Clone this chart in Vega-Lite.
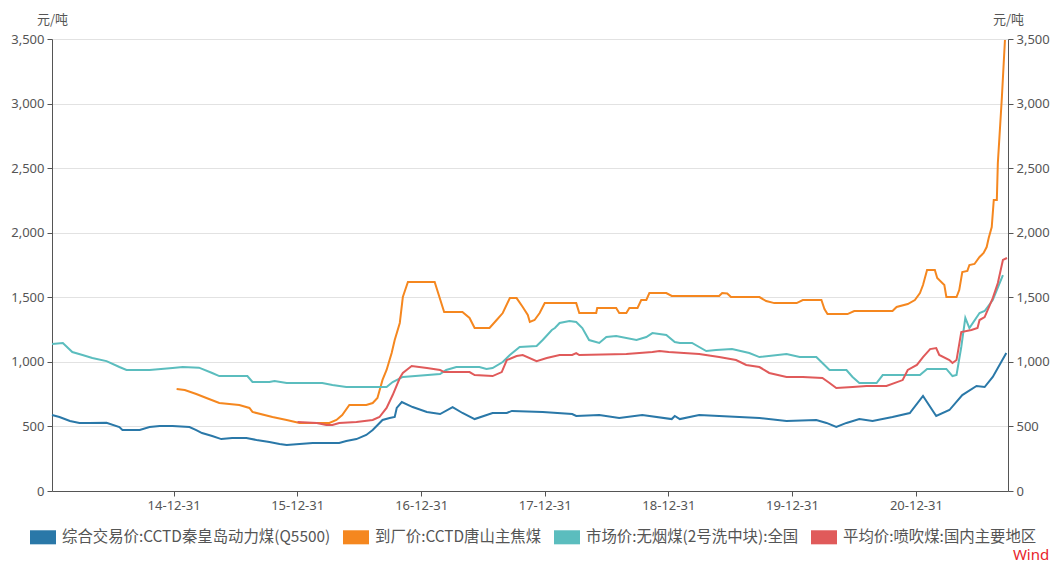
{
  "$schema": "https://vega.github.io/schema/vega-lite/v6.json",
  "width": 956,
  "height": 452,
  "autosize": {"type": "none"},
  "padding": {"left": 52, "top": 39, "right": 46, "bottom": 74},
  "background": "white",
  "config": {"view": {"stroke": null}, "font": "Noto Sans CJK SC"},
  "title": {"text": "Wind", "orient": "bottom", "anchor": "end", "frame": "bounds", "color": "#e8242b", "fontSize": 15, "fontWeight": "normal", "font": "Noto Sans", "offset": 2},
  "data": {"values": [
    {"d":"2014-01-06","s":"综合交易价:CCTD秦皇岛动力煤(Q5500)","v":588},
    {"d":"2014-01-28","s":"综合交易价:CCTD秦皇岛动力煤(Q5500)","v":573},
    {"d":"2014-02-28","s":"综合交易价:CCTD秦皇岛动力煤(Q5500)","v":542},
    {"d":"2014-03-28","s":"综合交易价:CCTD秦皇岛动力煤(Q5500)","v":527},
    {"d":"2014-04-26","s":"综合交易价:CCTD秦皇岛动力煤(Q5500)","v":527},
    {"d":"2014-06-16","s":"综合交易价:CCTD秦皇岛动力煤(Q5500)","v":529},
    {"d":"2014-07-24","s":"综合交易价:CCTD秦皇岛动力煤(Q5500)","v":495},
    {"d":"2014-08-02","s":"综合交易价:CCTD秦皇岛动力煤(Q5500)","v":472},
    {"d":"2014-09-22","s":"综合交易价:CCTD秦皇岛动力煤(Q5500)","v":472},
    {"d":"2014-10-21","s":"综合交易价:CCTD秦皇岛动力煤(Q5500)","v":495},
    {"d":"2014-11-20","s":"综合交易价:CCTD秦皇岛动力煤(Q5500)","v":503},
    {"d":"2014-12-28","s":"综合交易价:CCTD秦皇岛动力煤(Q5500)","v":503},
    {"d":"2015-02-16","s":"综合交易价:CCTD秦皇岛动力煤(Q5500)","v":495},
    {"d":"2015-03-08","s":"综合交易价:CCTD秦皇岛动力煤(Q5500)","v":472},
    {"d":"2015-03-25","s":"综合交易价:CCTD秦皇岛动力煤(Q5500)","v":449},
    {"d":"2015-04-24","s":"综合交易价:CCTD秦皇岛动力煤(Q5500)","v":426},
    {"d":"2015-05-21","s":"综合交易价:CCTD秦皇岛动力煤(Q5500)","v":402},
    {"d":"2015-06-22","s":"综合交易价:CCTD秦皇岛动力煤(Q5500)","v":410},
    {"d":"2015-08-03","s":"综合交易价:CCTD秦皇岛动力煤(Q5500)","v":410},
    {"d":"2015-09-02","s":"综合交易价:CCTD秦皇岛动力煤(Q5500)","v":395},
    {"d":"2015-10-10","s":"综合交易价:CCTD秦皇岛动力煤(Q5500)","v":379},
    {"d":"2015-11-09","s":"综合交易价:CCTD秦皇岛动力煤(Q5500)","v":364},
    {"d":"2015-11-30","s":"综合交易价:CCTD秦皇岛动力煤(Q5500)","v":356},
    {"d":"2016-01-07","s":"综合交易价:CCTD秦皇岛动力煤(Q5500)","v":364},
    {"d":"2016-02-15","s":"综合交易价:CCTD秦皇岛动力煤(Q5500)","v":372},
    {"d":"2016-05-03","s":"综合交易价:CCTD秦皇岛动力煤(Q5500)","v":372},
    {"d":"2016-05-24","s":"综合交易价:CCTD秦皇岛动力煤(Q5500)","v":387},
    {"d":"2016-06-23","s":"综合交易价:CCTD秦皇岛动力煤(Q5500)","v":402},
    {"d":"2016-07-22","s":"综合交易价:CCTD秦皇岛动力煤(Q5500)","v":434},
    {"d":"2016-08-10","s":"综合交易价:CCTD秦皇岛动力煤(Q5500)","v":472},
    {"d":"2016-09-08","s":"综合交易价:CCTD秦皇岛动力煤(Q5500)","v":550},
    {"d":"2016-09-29","s":"综合交易价:CCTD秦皇岛动力煤(Q5500)","v":565},
    {"d":"2016-10-14","s":"综合交易价:CCTD秦皇岛动力煤(Q5500)","v":573},
    {"d":"2016-10-20","s":"综合交易价:CCTD秦皇岛动力煤(Q5500)","v":643},
    {"d":"2016-11-04","s":"综合交易价:CCTD秦皇岛动力煤(Q5500)","v":689},
    {"d":"2016-12-06","s":"综合交易价:CCTD秦皇岛动力煤(Q5500)","v":650},
    {"d":"2017-01-17","s":"综合交易价:CCTD秦皇岛动力煤(Q5500)","v":612},
    {"d":"2017-02-25","s":"综合交易价:CCTD秦皇岛动力煤(Q5500)","v":596},
    {"d":"2017-04-03","s":"综合交易价:CCTD秦皇岛动力煤(Q5500)","v":650},
    {"d":"2017-05-02","s":"综合交易价:CCTD秦皇岛动力煤(Q5500)","v":604},
    {"d":"2017-06-07","s":"综合交易价:CCTD秦皇岛动力煤(Q5500)","v":557},
    {"d":"2017-07-30","s":"综合交易价:CCTD秦皇岛动力煤(Q5500)","v":604},
    {"d":"2017-09-10","s":"综合交易价:CCTD秦皇岛动力煤(Q5500)","v":604},
    {"d":"2017-09-25","s":"综合交易价:CCTD秦皇岛动力煤(Q5500)","v":620},
    {"d":"2017-12-25","s":"综合交易价:CCTD秦皇岛动力煤(Q5500)","v":612},
    {"d":"2018-03-22","s":"综合交易价:CCTD秦皇岛动力煤(Q5500)","v":596},
    {"d":"2018-04-03","s":"综合交易价:CCTD秦皇岛动力煤(Q5500)","v":581},
    {"d":"2018-06-10","s":"综合交易价:CCTD秦皇岛动力煤(Q5500)","v":588},
    {"d":"2018-08-08","s":"综合交易价:CCTD秦皇岛动力煤(Q5500)","v":565},
    {"d":"2018-10-15","s":"综合交易价:CCTD秦皇岛动力煤(Q5500)","v":588},
    {"d":"2019-01-10","s":"综合交易价:CCTD秦皇岛动力煤(Q5500)","v":557},
    {"d":"2019-01-19","s":"综合交易价:CCTD秦皇岛动力煤(Q5500)","v":581},
    {"d":"2019-02-03","s":"综合交易价:CCTD秦皇岛动力煤(Q5500)","v":557},
    {"d":"2019-04-01","s":"综合交易价:CCTD秦皇岛动力煤(Q5500)","v":588},
    {"d":"2019-05-30","s":"综合交易价:CCTD秦皇岛动力煤(Q5500)","v":581},
    {"d":"2019-09-26","s":"综合交易价:CCTD秦皇岛动力煤(Q5500)","v":565},
    {"d":"2019-12-15","s":"综合交易价:CCTD秦皇岛动力煤(Q5500)","v":542},
    {"d":"2020-03-12","s":"综合交易价:CCTD秦皇岛动力煤(Q5500)","v":550},
    {"d":"2020-04-11","s":"综合交易价:CCTD秦皇岛动力煤(Q5500)","v":527},
    {"d":"2020-05-10","s":"综合交易价:CCTD秦皇岛动力煤(Q5500)","v":496},
    {"d":"2020-06-09","s":"综合交易价:CCTD秦皇岛动力煤(Q5500)","v":527},
    {"d":"2020-07-17","s":"综合交易价:CCTD秦皇岛动力煤(Q5500)","v":557},
    {"d":"2020-08-25","s":"综合交易价:CCTD秦皇岛动力煤(Q5500)","v":542},
    {"d":"2020-10-23","s":"综合交易价:CCTD秦皇岛动力煤(Q5500)","v":573},
    {"d":"2020-12-13","s":"综合交易价:CCTD秦皇岛动力煤(Q5500)","v":604},
    {"d":"2021-01-21","s":"综合交易价:CCTD秦皇岛动力煤(Q5500)","v":736},
    {"d":"2021-03-01","s":"综合交易价:CCTD秦皇岛动力煤(Q5500)","v":581},
    {"d":"2021-04-09","s":"综合交易价:CCTD秦皇岛动力煤(Q5500)","v":627},
    {"d":"2021-05-17","s":"综合交易价:CCTD秦皇岛动力煤(Q5500)","v":743},
    {"d":"2021-06-28","s":"综合交易价:CCTD秦皇岛动力煤(Q5500)","v":813},
    {"d":"2021-07-22","s":"综合交易价:CCTD秦皇岛动力煤(Q5500)","v":805},
    {"d":"2021-08-15","s":"综合交易价:CCTD秦皇岛动力煤(Q5500)","v":883},
    {"d":"2021-09-24","s":"综合交易价:CCTD秦皇岛动力煤(Q5500)","v":1069},

    {"d":"2015-01-09","s":"到厂价:CCTD唐山主焦煤","v":790},
    {"d":"2015-02-02","s":"到厂价:CCTD唐山主焦煤","v":782},
    {"d":"2015-03-08","s":"到厂价:CCTD唐山主焦煤","v":751},
    {"d":"2015-04-07","s":"到厂价:CCTD唐山主焦煤","v":720},
    {"d":"2015-05-15","s":"到厂价:CCTD唐山主焦煤","v":681},
    {"d":"2015-07-13","s":"到厂价:CCTD唐山主焦煤","v":666},
    {"d":"2015-08-12","s":"到厂价:CCTD唐山主焦煤","v":643},
    {"d":"2015-08-21","s":"到厂价:CCTD唐山主焦煤","v":612},
    {"d":"2015-10-19","s":"到厂价:CCTD唐山主焦煤","v":573},
    {"d":"2015-11-30","s":"到厂价:CCTD唐山主焦煤","v":550},
    {"d":"2016-01-07","s":"到厂价:CCTD唐山主焦煤","v":527},
    {"d":"2016-04-04","s":"到厂价:CCTD唐山主焦煤","v":527},
    {"d":"2016-04-25","s":"到厂价:CCTD唐山主焦煤","v":550},
    {"d":"2016-05-12","s":"到厂价:CCTD唐山主焦煤","v":588},
    {"d":"2016-06-02","s":"到厂价:CCTD唐山主焦煤","v":666},
    {"d":"2016-07-22","s":"到厂价:CCTD唐山主焦煤","v":666},
    {"d":"2016-08-10","s":"到厂价:CCTD唐山主焦煤","v":681},
    {"d":"2016-08-24","s":"到厂价:CCTD唐山主焦煤","v":720},
    {"d":"2016-09-08","s":"到厂价:CCTD唐山主焦煤","v":860},
    {"d":"2016-09-20","s":"到厂价:CCTD唐山主焦煤","v":937},
    {"d":"2016-10-05","s":"到厂价:CCTD唐山主焦煤","v":1068},
    {"d":"2016-10-14","s":"到厂价:CCTD唐山主焦煤","v":1169},
    {"d":"2016-10-29","s":"到厂价:CCTD唐山主焦煤","v":1301},
    {"d":"2016-11-07","s":"到厂价:CCTD唐山主焦煤","v":1502},
    {"d":"2016-11-22","s":"到厂价:CCTD唐山主焦煤","v":1618},
    {"d":"2017-02-09","s":"到厂价:CCTD唐山主焦煤","v":1618},
    {"d":"2017-03-09","s":"到厂价:CCTD唐山主焦煤","v":1386},
    {"d":"2017-05-02","s":"到厂价:CCTD唐山主焦煤","v":1386},
    {"d":"2017-05-23","s":"到厂价:CCTD唐山主焦煤","v":1340},
    {"d":"2017-06-07","s":"到厂价:CCTD唐山主焦煤","v":1262},
    {"d":"2017-07-21","s":"到厂价:CCTD唐山主焦煤","v":1262},
    {"d":"2017-08-11","s":"到厂价:CCTD唐山主焦煤","v":1324},
    {"d":"2017-08-29","s":"到厂价:CCTD唐山主焦煤","v":1378},
    {"d":"2017-09-19","s":"到厂价:CCTD唐山主焦煤","v":1494},
    {"d":"2017-10-09","s":"到厂价:CCTD唐山主焦煤","v":1494},
    {"d":"2017-10-27","s":"到厂价:CCTD唐山主焦煤","v":1425},
    {"d":"2017-11-11","s":"到厂价:CCTD唐山主焦煤","v":1363},
    {"d":"2017-11-17","s":"到厂价:CCTD唐山主焦煤","v":1309},
    {"d":"2017-12-01","s":"到厂价:CCTD唐山主焦煤","v":1324},
    {"d":"2017-12-16","s":"到厂价:CCTD唐山主焦煤","v":1378},
    {"d":"2017-12-31","s":"到厂价:CCTD唐山主焦煤","v":1455},
    {"d":"2018-04-03","s":"到厂价:CCTD唐山主焦煤","v":1455},
    {"d":"2018-04-12","s":"到厂价:CCTD唐山主焦煤","v":1378},
    {"d":"2018-06-01","s":"到厂价:CCTD唐山主焦煤","v":1378},
    {"d":"2018-06-04","s":"到厂价:CCTD唐山主焦煤","v":1417},
    {"d":"2018-07-30","s":"到厂价:CCTD唐山主焦煤","v":1417},
    {"d":"2018-08-08","s":"到厂价:CCTD唐山主焦煤","v":1378},
    {"d":"2018-08-29","s":"到厂价:CCTD唐山主焦煤","v":1378},
    {"d":"2018-09-07","s":"到厂价:CCTD唐山主焦煤","v":1417},
    {"d":"2018-10-01","s":"到厂价:CCTD唐山主焦煤","v":1417},
    {"d":"2018-10-12","s":"到厂价:CCTD唐山主焦煤","v":1479},
    {"d":"2018-10-27","s":"到厂价:CCTD唐山主焦煤","v":1479},
    {"d":"2018-11-05","s":"到厂价:CCTD唐山主焦煤","v":1533},
    {"d":"2018-12-25","s":"到厂价:CCTD唐山主焦煤","v":1533},
    {"d":"2019-01-10","s":"到厂价:CCTD唐山主焦煤","v":1510},
    {"d":"2019-05-30","s":"到厂价:CCTD唐山主焦煤","v":1510},
    {"d":"2019-06-08","s":"到厂价:CCTD唐山主焦煤","v":1533},
    {"d":"2019-06-23","s":"到厂价:CCTD唐山主焦煤","v":1530},
    {"d":"2019-07-04","s":"到厂价:CCTD唐山主焦煤","v":1502},
    {"d":"2019-09-26","s":"到厂价:CCTD唐山主焦煤","v":1502},
    {"d":"2019-10-16","s":"到厂价:CCTD唐山主焦煤","v":1471},
    {"d":"2019-11-09","s":"到厂价:CCTD唐山主焦煤","v":1455},
    {"d":"2020-01-14","s":"到厂价:CCTD唐山主焦煤","v":1455},
    {"d":"2020-02-01","s":"到厂价:CCTD唐山主焦煤","v":1479},
    {"d":"2020-03-27","s":"到厂价:CCTD唐山主焦煤","v":1479},
    {"d":"2020-04-05","s":"到厂价:CCTD唐山主焦煤","v":1409},
    {"d":"2020-04-14","s":"到厂价:CCTD唐山主焦煤","v":1370},
    {"d":"2020-06-12","s":"到厂价:CCTD唐山主焦煤","v":1370},
    {"d":"2020-07-02","s":"到厂价:CCTD唐山主焦煤","v":1394},
    {"d":"2020-10-23","s":"到厂价:CCTD唐山主焦煤","v":1394},
    {"d":"2020-11-04","s":"到厂价:CCTD唐山主焦煤","v":1425},
    {"d":"2020-12-07","s":"到厂价:CCTD唐山主焦煤","v":1448},
    {"d":"2020-12-28","s":"到厂价:CCTD唐山主焦煤","v":1479},
    {"d":"2021-01-12","s":"到厂价:CCTD唐山主焦煤","v":1533},
    {"d":"2021-01-21","s":"到厂价:CCTD唐山主焦煤","v":1595},
    {"d":"2021-02-02","s":"到厂价:CCTD唐山主焦煤","v":1711},
    {"d":"2021-02-25","s":"到厂价:CCTD唐山主焦煤","v":1711},
    {"d":"2021-03-04","s":"到厂价:CCTD唐山主焦煤","v":1649},
    {"d":"2021-03-25","s":"到厂价:CCTD唐山主焦煤","v":1595},
    {"d":"2021-03-31","s":"到厂价:CCTD唐山主焦煤","v":1502},
    {"d":"2021-04-30","s":"到厂价:CCTD唐山主焦煤","v":1502},
    {"d":"2021-05-08","s":"到厂价:CCTD唐山主焦煤","v":1556},
    {"d":"2021-05-17","s":"到厂价:CCTD唐山主焦煤","v":1696},
    {"d":"2021-06-01","s":"到厂价:CCTD唐山主焦煤","v":1704},
    {"d":"2021-06-07","s":"到厂价:CCTD唐山主焦煤","v":1750},
    {"d":"2021-06-22","s":"到厂价:CCTD唐山主焦煤","v":1758},
    {"d":"2021-07-07","s":"到厂价:CCTD唐山主焦煤","v":1812},
    {"d":"2021-07-19","s":"到厂价:CCTD唐山主焦煤","v":1843},
    {"d":"2021-07-28","s":"到厂价:CCTD唐山主焦煤","v":1889},
    {"d":"2021-08-03","s":"到厂价:CCTD唐山主焦煤","v":1959},
    {"d":"2021-08-12","s":"到厂价:CCTD唐山主焦煤","v":2044},
    {"d":"2021-08-18","s":"到厂价:CCTD唐山主焦煤","v":2253},
    {"d":"2021-08-27","s":"到厂价:CCTD唐山主焦煤","v":2253},
    {"d":"2021-08-30","s":"到厂价:CCTD唐山主焦煤","v":2540},
    {"d":"2021-09-11","s":"到厂价:CCTD唐山主焦煤","v":3051},
    {"d":"2021-09-20","s":"到厂价:CCTD唐山主焦煤","v":3492},

    {"d":"2014-01-06","s":"市场价:无烟煤(2号洗中块):全国","v":1138},
    {"d":"2014-02-07","s":"市场价:无烟煤(2号洗中块):全国","v":1146},
    {"d":"2014-03-07","s":"市场价:无烟煤(2号洗中块):全国","v":1076},
    {"d":"2014-04-06","s":"市场价:无烟煤(2号洗中块):全国","v":1053},
    {"d":"2014-05-05","s":"市场价:无烟煤(2号洗中块):全国","v":1030},
    {"d":"2014-06-16","s":"市场价:无烟煤(2号洗中块):全国","v":1006},
    {"d":"2014-07-24","s":"市场价:无烟煤(2号洗中块):全国","v":960},
    {"d":"2014-08-14","s":"市场价:无烟煤(2号洗中块):全国","v":937},
    {"d":"2014-10-21","s":"市场价:无烟煤(2号洗中块):全国","v":937},
    {"d":"2014-12-28","s":"市场价:无烟煤(2号洗中块):全国","v":952},
    {"d":"2015-01-27","s":"市场价:无烟煤(2号洗中块):全国","v":960},
    {"d":"2015-03-16","s":"市场价:无烟煤(2号洗中块):全国","v":955},
    {"d":"2015-04-24","s":"市场价:无烟煤(2号洗中块):全国","v":914},
    {"d":"2015-05-15","s":"市场价:无烟煤(2号洗中块):全国","v":890},
    {"d":"2015-08-06","s":"市场价:无烟煤(2号洗中块):全国","v":890},
    {"d":"2015-08-21","s":"市场价:无烟煤(2号洗中块):全国","v":844},
    {"d":"2015-10-10","s":"市场价:无烟煤(2号洗中块):全国","v":844},
    {"d":"2015-10-25","s":"市场价:无烟煤(2号洗中块):全国","v":852},
    {"d":"2015-11-30","s":"市场价:无烟煤(2号洗中块):全国","v":836},
    {"d":"2016-03-14","s":"市场价:无烟煤(2号洗中块):全国","v":836},
    {"d":"2016-04-13","s":"市场价:无烟煤(2号洗中块):全国","v":821},
    {"d":"2016-05-24","s":"市场价:无烟煤(2号洗中块):全国","v":805},
    {"d":"2016-09-20","s":"市场价:无烟煤(2号洗中块):全国","v":805},
    {"d":"2016-10-08","s":"市场价:无烟煤(2号洗中块):全国","v":844},
    {"d":"2016-11-07","s":"市场价:无烟煤(2号洗中块):全国","v":883},
    {"d":"2017-02-25","s":"市场价:无烟煤(2号洗中块):全国","v":906},
    {"d":"2017-03-15","s":"市场价:无烟煤(2号洗中块):全国","v":937},
    {"d":"2017-04-14","s":"市场价:无烟煤(2号洗中块):全国","v":960},
    {"d":"2017-06-21","s":"市场价:无烟煤(2号洗中块):全国","v":960},
    {"d":"2017-07-12","s":"市场价:无烟煤(2号洗中块):全国","v":945},
    {"d":"2017-07-30","s":"市场价:无烟煤(2号洗中块):全国","v":952},
    {"d":"2017-08-29","s":"市场价:无烟煤(2号洗中块):全国","v":999},
    {"d":"2017-09-19","s":"市场价:无烟煤(2号洗中块):全国","v":1053},
    {"d":"2017-10-18","s":"市场价:无烟煤(2号洗中块):全国","v":1115},
    {"d":"2017-12-07","s":"市场价:无烟煤(2号洗中块):全国","v":1123},
    {"d":"2017-12-25","s":"市场价:无烟煤(2号洗中块):全国","v":1169},
    {"d":"2018-01-21","s":"市场价:无烟煤(2号洗中块):全国","v":1247},
    {"d":"2018-01-30","s":"市场价:无烟煤(2号洗中块):全国","v":1262},
    {"d":"2018-02-13","s":"市场价:无烟煤(2号洗中块):全国","v":1301},
    {"d":"2018-03-14","s":"市场价:无烟煤(2号洗中块):全国","v":1316},
    {"d":"2018-04-03","s":"市场价:无烟煤(2号洗中块):全国","v":1309},
    {"d":"2018-04-21","s":"市场价:无烟煤(2号洗中块):全国","v":1262},
    {"d":"2018-05-11","s":"市场价:无烟煤(2号洗中块):全国","v":1169},
    {"d":"2018-06-10","s":"市场价:无烟煤(2号洗中块):全国","v":1146},
    {"d":"2018-07-01","s":"市场价:无烟煤(2号洗中块):全国","v":1192},
    {"d":"2018-07-30","s":"市场价:无烟煤(2号洗中块):全国","v":1200},
    {"d":"2018-09-28","s":"市场价:无烟煤(2号洗中块):全国","v":1169},
    {"d":"2018-10-27","s":"市场价:无烟煤(2号洗中块):全国","v":1192},
    {"d":"2018-11-14","s":"市场价:无烟煤(2号洗中块):全国","v":1223},
    {"d":"2018-12-25","s":"市场价:无烟煤(2号洗中块):全国","v":1208},
    {"d":"2019-01-19","s":"市场价:无烟煤(2号洗中块):全国","v":1153},
    {"d":"2019-02-03","s":"市场价:无烟煤(2号洗中块):全国","v":1146},
    {"d":"2019-03-11","s":"市场价:无烟煤(2号洗中块):全国","v":1146},
    {"d":"2019-04-22","s":"市场价:无烟煤(2号洗中块):全国","v":1084},
    {"d":"2019-05-21","s":"市场价:无烟煤(2号洗中块):全国","v":1092},
    {"d":"2019-07-07","s":"市场价:无烟煤(2号洗中块):全国","v":1100},
    {"d":"2019-08-27","s":"市场价:无烟煤(2号洗中块):全国","v":1068},
    {"d":"2019-09-26","s":"市场价:无烟煤(2号洗中块):全国","v":1037},
    {"d":"2019-12-15","s":"市场价:无烟煤(2号洗中块):全国","v":1061},
    {"d":"2020-01-23","s":"市场价:无烟煤(2号洗中块):全国","v":1037},
    {"d":"2020-03-12","s":"市场价:无烟煤(2号洗中块):全国","v":1037},
    {"d":"2020-03-30","s":"市场价:无烟煤(2号洗中块):全国","v":991},
    {"d":"2020-04-20","s":"市场价:无烟煤(2号洗中块):全国","v":937},
    {"d":"2020-06-09","s":"市场价:无烟煤(2号洗中块):全国","v":937},
    {"d":"2020-06-27","s":"市场价:无烟煤(2号洗中块):全国","v":883},
    {"d":"2020-07-17","s":"市场价:无烟煤(2号洗中块):全国","v":836},
    {"d":"2020-09-06","s":"市场价:无烟煤(2号洗中块):全国","v":836},
    {"d":"2020-09-24","s":"市场价:无烟煤(2号洗中块):全国","v":898},
    {"d":"2021-01-12","s":"市场价:无烟煤(2号洗中块):全国","v":898},
    {"d":"2021-02-02","s":"市场价:无烟煤(2号洗中块):全国","v":945},
    {"d":"2021-03-31","s":"市场价:无烟煤(2号洗中块):全国","v":945},
    {"d":"2021-04-18","s":"市场价:无烟煤(2号洗中块):全国","v":890},
    {"d":"2021-04-30","s":"市场价:无烟煤(2号洗中块):全国","v":898},
    {"d":"2021-05-14","s":"市场价:无烟煤(2号洗中块):全国","v":1115},
    {"d":"2021-05-26","s":"市场价:无烟煤(2号洗中块):全国","v":1340},
    {"d":"2021-06-07","s":"市场价:无烟煤(2号洗中块):全国","v":1262},
    {"d":"2021-07-07","s":"市场价:无烟煤(2号洗中块):全国","v":1378},
    {"d":"2021-07-22","s":"市场价:无烟煤(2号洗中块):全国","v":1394},
    {"d":"2021-08-15","s":"市场价:无烟煤(2号洗中块):全国","v":1479},
    {"d":"2021-09-14","s":"市场价:无烟煤(2号洗中块):全国","v":1672},

    {"d":"2016-01-01","s":"平均价:喷吹煤:国内主要地区","v":534},
    {"d":"2016-02-27","s":"平均价:喷吹煤:国内主要地区","v":527},
    {"d":"2016-03-26","s":"平均价:喷吹煤:国内主要地区","v":511},
    {"d":"2016-04-13","s":"平均价:喷吹煤:国内主要地区","v":511},
    {"d":"2016-05-03","s":"平均价:喷吹煤:国内主要地区","v":527},
    {"d":"2016-06-23","s":"平均价:喷吹煤:国内主要地区","v":534},
    {"d":"2016-08-10","s":"平均价:喷吹煤:国内主要地区","v":550},
    {"d":"2016-08-30","s":"平均价:喷吹煤:国内主要地区","v":573},
    {"d":"2016-09-20","s":"平均价:喷吹煤:国内主要地区","v":643},
    {"d":"2016-10-08","s":"平均价:喷吹煤:国内主要地区","v":743},
    {"d":"2016-10-29","s":"平均价:喷吹煤:国内主要地区","v":875},
    {"d":"2016-11-07","s":"平均价:喷吹煤:国内主要地区","v":914},
    {"d":"2016-12-03","s":"平均价:喷吹煤:国内主要地区","v":968},
    {"d":"2017-01-17","s":"平均价:喷吹煤:国内主要地区","v":952},
    {"d":"2017-02-25","s":"平均价:喷吹煤:国内主要地区","v":937},
    {"d":"2017-03-09","s":"平均价:喷吹煤:国内主要地区","v":921},
    {"d":"2017-05-23","s":"平均价:喷吹煤:国内主要地区","v":921},
    {"d":"2017-06-07","s":"平均价:喷吹煤:国内主要地区","v":898},
    {"d":"2017-07-30","s":"平均价:喷吹煤:国内主要地区","v":890},
    {"d":"2017-08-26","s":"平均价:喷吹煤:国内主要地区","v":921},
    {"d":"2017-09-10","s":"平均价:喷吹煤:国内主要地区","v":1014},
    {"d":"2017-10-09","s":"平均价:喷吹煤:国内主要地区","v":1045},
    {"d":"2017-10-27","s":"平均价:喷吹煤:国内主要地区","v":1053},
    {"d":"2017-12-07","s":"平均价:喷吹煤:国内主要地区","v":1006},
    {"d":"2018-01-06","s":"平均价:喷吹煤:国内主要地区","v":1030},
    {"d":"2018-02-13","s":"平均价:喷吹煤:国内主要地区","v":1053},
    {"d":"2018-03-22","s":"平均价:喷吹煤:国内主要地区","v":1053},
    {"d":"2018-04-03","s":"平均价:喷吹煤:国内主要地区","v":1068},
    {"d":"2018-04-12","s":"平均价:喷吹煤:国内主要地区","v":1053},
    {"d":"2018-08-29","s":"平均价:喷吹煤:国内主要地区","v":1061},
    {"d":"2018-11-14","s":"平均价:喷吹煤:国内主要地区","v":1076},
    {"d":"2018-12-05","s":"平均价:喷吹煤:国内主要地区","v":1084},
    {"d":"2019-01-01","s":"平均价:喷吹煤:国内主要地区","v":1076},
    {"d":"2019-04-01","s":"平均价:喷吹煤:国内主要地区","v":1061},
    {"d":"2019-05-30","s":"平均价:喷吹煤:国内主要地区","v":1037},
    {"d":"2019-07-19","s":"平均价:喷吹煤:国内主要地区","v":1014},
    {"d":"2019-08-18","s":"平均价:喷吹煤:国内主要地区","v":976},
    {"d":"2019-09-26","s":"平均价:喷吹煤:国内主要地区","v":960},
    {"d":"2019-10-25","s":"平均价:喷吹煤:国内主要地区","v":914},
    {"d":"2019-12-15","s":"平均价:喷吹煤:国内主要地区","v":883},
    {"d":"2020-02-01","s":"平均价:喷吹煤:国内主要地区","v":883},
    {"d":"2020-03-30","s":"平均价:喷吹煤:国内主要地区","v":875},
    {"d":"2020-04-20","s":"平均价:喷吹煤:国内主要地区","v":836},
    {"d":"2020-05-10","s":"平均价:喷吹煤:国内主要地区","v":797},
    {"d":"2020-06-27","s":"平均价:喷吹煤:国内主要地区","v":805},
    {"d":"2020-08-07","s":"平均价:喷吹煤:国内主要地区","v":813},
    {"d":"2020-10-05","s":"平均价:喷吹煤:国内主要地区","v":813},
    {"d":"2020-11-22","s":"平均价:喷吹煤:国内主要地区","v":859},
    {"d":"2020-12-07","s":"平均价:喷吹煤:国内主要地区","v":937},
    {"d":"2021-01-03","s":"平均价:喷吹煤:国内主要地区","v":976},
    {"d":"2021-01-21","s":"平均价:喷吹煤:国内主要地区","v":1037},
    {"d":"2021-02-11","s":"平均价:喷吹煤:国内主要地区","v":1099},
    {"d":"2021-03-01","s":"平均价:喷吹煤:国内主要地区","v":1107},
    {"d":"2021-03-10","s":"平均价:喷吹煤:国内主要地区","v":1053},
    {"d":"2021-04-09","s":"平均价:喷吹煤:国内主要地区","v":1014},
    {"d":"2021-04-18","s":"平均价:喷吹煤:国内主要地区","v":991},
    {"d":"2021-04-30","s":"平均价:喷吹煤:国内主要地区","v":1014},
    {"d":"2021-05-14","s":"平均价:喷吹煤:国内主要地区","v":1231},
    {"d":"2021-06-13","s":"平均价:喷吹煤:国内主要地区","v":1247},
    {"d":"2021-07-01","s":"平均价:喷吹煤:国内主要地区","v":1262},
    {"d":"2021-07-07","s":"平均价:喷吹煤:国内主要地区","v":1324},
    {"d":"2021-07-22","s":"平均价:喷吹煤:国内主要地区","v":1347},
    {"d":"2021-08-15","s":"平均价:喷吹煤:国内主要地区","v":1494},
    {"d":"2021-08-30","s":"平均价:喷吹煤:国内主要地区","v":1610},
    {"d":"2021-09-14","s":"平均价:喷吹煤:国内主要地区","v":1789},
    {"d":"2021-09-26","s":"平均价:喷吹煤:国内主要地区","v":1804}
  ]},
  "encoding": {
    "x": {
      "field": "d", "type": "temporal",
      "scale": {"type": "utc", "domain": ["2014-01-06", "2021-09-29"]},
      "axis": {
        "title": null, "grid": false,
        "values": ["2014-12-31", "2015-12-31", "2016-12-31", "2017-12-31", "2018-12-31", "2019-12-31", "2020-12-31"],
        "format": "%y-%m-%d", "labelFont": "Noto Sans", "labelFontSize": 13, "labelColor": "#555555",
        "domainColor": "#555555", "tickColor": "#555555", "tickSize": 5, "labelPadding": 3
      }
    },
    "y": {
      "field": "v", "type": "quantitative",
      "scale": {"domain": [0, 3500], "nice": false}
    }
  },
  "layer": [
    {
      "mark": {"type": "line", "strokeWidth": 2, "interpolate": "linear"},
      "encoding": {
        "y": {
          "field": "v", "type": "quantitative",
          "axis": {
            "orient": "left", "values": [0, 500, 1000, 1500, 2000, 2500, 3000, 3500], "format": ",.0f",
            "grid": true, "gridColor": "#e2e2e2", "gridWidth": 1,
            "labelFont": "Noto Sans", "labelFontSize": 13, "labelColor": "#555555",
            "domainColor": "#555555", "tickColor": "#555555", "tickSize": 5, "labelPadding": 3,
            "title": "元/吨", "titleAngle": 0, "titleX": 0, "titleY": -20, "titleAlign": "center", "titleBaseline": "middle",
            "titleFont": "Noto Sans CJK SC", "titleFontSize": 13, "titleFontWeight": "normal", "titleColor": "#555555"
          }
        },
        "color": {
          "field": "s", "type": "nominal",
          "scale": {
            "domain": ["综合交易价:CCTD秦皇岛动力煤(Q5500)", "到厂价:CCTD唐山主焦煤", "市场价:无烟煤(2号洗中块):全国", "平均价:喷吹煤:国内主要地区"],
            "range": ["#2a78a8", "#f5871f", "#5bbdbe", "#e05a5a"]
          },
          "legend": {
            "title": null, "orient": "none", "direction": "horizontal", "legendX": -22, "legendY": 485,
            "symbolType": "M-1,-0.54H1V0.54H-1Z", "symbolSize": 676, "symbolStrokeWidth": 0,
            "labelFont": "Noto Sans CJK SC", "labelFontSize": 15.4, "labelColor": "#555555", "labelLimit": 400,
            "labelOffset": 6, "columnPadding": 12,
            "encode": {"symbols": {"update": {"fill": {"field": "value", "scale": "color"}, "opacity": {"value": 1}}}}
          }
        }
      }
    },
    {
      "mark": {"type": "line", "strokeOpacity": 0},
      "encoding": {
        "detail": {"field": "s", "type": "nominal"},
        "y": {
          "field": "v", "type": "quantitative",
          "axis": {
            "orient": "right", "values": [0, 500, 1000, 1500, 2000, 2500, 3000, 3500], "format": ",.0f",
            "grid": false,
            "labelFont": "Noto Sans", "labelFontSize": 13, "labelColor": "#555555",
            "domainColor": "#555555", "tickColor": "#555555", "tickSize": 5, "labelPadding": 3,
            "title": "元/吨", "titleAngle": 0, "titleX": 0, "titleY": -20, "titleAlign": "center", "titleBaseline": "middle",
            "titleFont": "Noto Sans CJK SC", "titleFontSize": 13, "titleFontWeight": "normal", "titleColor": "#555555"
          }
        }
      }
    }
  ],
  "resolve": {"axis": {"y": "independent"}}
}
